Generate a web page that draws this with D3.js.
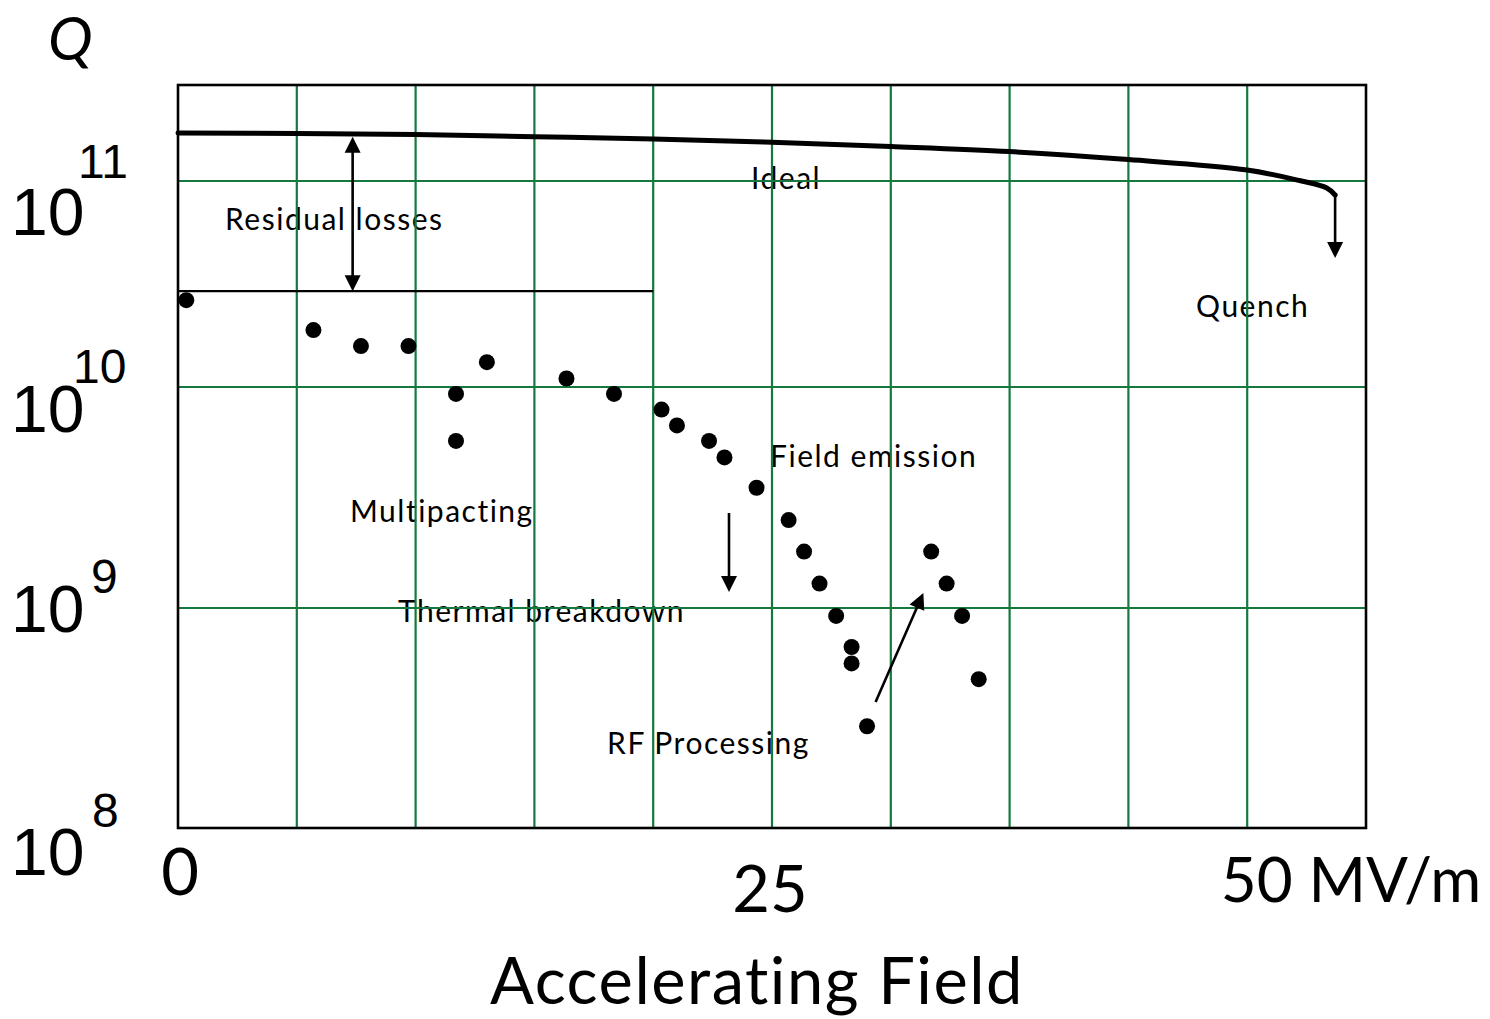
<!DOCTYPE html>
<html>
<head>
<meta charset="utf-8">
<script src="https://cdn.jsdelivr.net/npm/d3@7"></script>
<style>
  html, body { margin: 0; padding: 0; background: #ffffff; }
  svg { display: block; }
</style>
</head>
<body>
<svg id="chart" width="1490" height="1019"></svg>
<script>
// Accelerating field (MV/m) and quality factor Q of the ideal cavity curve
const idealField = [0, 5, 10, 15, 20, 25, 30, 35, 40, 45, 47.2, 48.35, 48.7];
const idealQ = [1.71e11, 1.70e11, 1.68e11, 1.64e11, 1.60e11, 1.54e11, 1.47e11, 1.39e11, 1.27e11, 1.13e11, 1.005e11, 9.25e10, 8.55e10];

// Measured Q(E) points of a real cavity
const dotField = [0.35, 5.7, 7.7, 9.7, 11.7, 11.7, 13.0, 16.35, 18.35, 20.35, 21.0, 22.35, 23.0, 24.35, 25.7, 26.35, 27.0, 27.7, 28.35, 28.35, 29.0, 31.7, 32.35, 33.0, 33.7];
const dotQ = [2.64e10, 1.89e10, 1.58e10, 1.58e10, 9.3e9, 5.7e9, 1.32e10, 1.10e10, 9.3e9, 7.9e9, 6.7e9, 5.7e9, 4.8e9, 3.5e9, 2.5e9, 1.8e9, 1.29e9, 9.2e8, 6.65e8, 5.6e8, 2.9e8, 1.8e9, 1.29e9, 9.2e8, 4.75e8];

// Residual-loss level (drawn from 0 to 20 MV/m)
const residualQ = 2.92e10;
const residualEnd = 20;

// Axis ticks
const fieldGrid = [5, 10, 15, 20, 25, 30, 35, 40, 45];
const fieldTicks = [0, 25, 50];
const fieldTickLabels = ["0", "25", "50 MV/m"];
const qTicks = [1e8, 1e9, 1e10, 1e11];
const qTickExp = ["8", "9", "10", "11"];
const qGrid = [1e9, 1e10, 1e11];

// Annotations: text, field, Q at text baseline
const noteText = ["Residual losses", "Ideal", "Quench", "Field emission", "Multipacting", "Thermal breakdown", "RF Processing"];
const noteField = [1.98, 24.12, 42.85, 24.92, 7.24, 9.26, 18.06];
const noteQ = [5.78e10, 9.14e10, 2.19e10, 4.35e9, 2.45e9, 8.63e8, 2.17e8];

// Arrows: [field0, Q0] -> [field1, Q1]
const arrowFrom = [[48.7, 8.55e10], [23.19, 2.69e9], [29.36, 3.74e8]];
const arrowTo = [[48.7, 4.23e10], [23.19, 1.18e9], [31.37, 1.17e9]];
// Double-headed arrow spanning the residual losses
const residualArrowField = 7.35;
const residualArrowQ = [1.64e11, 2.92e10];

// ---- layout ----
const plotTop = 85;
const gridColor = "#14783f";
const sans = "Lato, 'Open Sans', sans-serif";

const svg = d3.select("#chart");

const x = d3.scaleLinear().domain([0, 50]).range([178, 1366]);
// piecewise log axis (decades are not evenly spaced on the sheet)
const y = d3.scaleLog().domain([1e8, 1e9, 1e10, 1e11]).range([828, 608, 387, 181]);

const plotBottom = y(1e8);

// annotation labels (drawn below the grid)
svg.append("g")
  .selectAll("text")
  .data(noteText)
  .join("text")
  .attr("x", (d, i) => x(noteField[i]))
  .attr("y", (d, i) => y(noteQ[i]))
  .attr("font-family", sans)
  .attr("font-size", 30)
  .attr("letter-spacing", 1.5)
  .attr("fill", "#000")
  .text(d => d);

// grid
const grid = svg.append("g").attr("stroke", gridColor).attr("stroke-width", 2.2);
grid.selectAll("line.v")
  .data(fieldGrid)
  .join("line")
  .attr("class", "v")
  .attr("x1", d => x(d)).attr("x2", d => x(d))
  .attr("y1", plotTop).attr("y2", plotBottom);
grid.selectAll("line.h")
  .data(qGrid)
  .join("line")
  .attr("class", "h")
  .attr("x1", x(0)).attr("x2", x(50))
  .attr("y1", d => y(d)).attr("y2", d => y(d));

// residual level
svg.append("line")
  .attr("x1", x(0)).attr("x2", x(residualEnd))
  .attr("y1", y(residualQ)).attr("y2", y(residualQ))
  .attr("stroke", "#000").attr("stroke-width", 2.2);

// ideal curve
const idealLine = d3.line()
  .x(d => x(d[0]))
  .y(d => y(d[1]))
  .curve(d3.curveCatmullRom.alpha(0.5));
svg.append("path")
  .datum(d3.zip(idealField, idealQ))
  .attr("d", idealLine)
  .attr("fill", "none")
  .attr("stroke", "#000")
  .attr("stroke-width", 5)
  .attr("stroke-linecap", "round");

// measured points
svg.append("g")
  .selectAll("circle")
  .data(d3.zip(dotField, dotQ))
  .join("circle")
  .attr("cx", d => x(d[0]))
  .attr("cy", d => y(d[1]))
  .attr("r", 8)
  .attr("fill", "#000");

// arrowheads
function arrowHead(g, x0, y0, x1, y1) {
  const len = 16, half = 8;
  const dx = x1 - x0, dy = y1 - y0, l = Math.hypot(dx, dy);
  const ux = dx / l, uy = dy / l;
  const bx = x1 - ux * len, by = y1 - uy * len;
  g.append("path")
    .attr("d", `M${x1},${y1}L${bx - uy * half},${by + ux * half}L${bx + uy * half},${by - ux * half}Z`)
    .attr("fill", "#000");
  return [bx + ux * 2, by + uy * 2];
}

const arrows = svg.append("g");
arrowFrom.forEach((f, i) => {
  const t = arrowTo[i];
  const x0 = x(f[0]), y0 = y(f[1]), x1 = x(t[0]), y1 = y(t[1]);
  const end = arrowHead(arrows, x0, y0, x1, y1);
  arrows.append("line")
    .attr("x1", x0).attr("y1", y0).attr("x2", end[0]).attr("y2", end[1])
    .attr("stroke", "#000").attr("stroke-width", 2.6);
});
{
  const ax = x(residualArrowField);
  const yTop = y(residualArrowQ[0]), yBot = y(residualArrowQ[1]);
  const e1 = arrowHead(arrows, ax, yBot, ax, yTop);
  const e2 = arrowHead(arrows, ax, yTop, ax, yBot);
  arrows.append("line")
    .attr("x1", ax).attr("y1", e1[1]).attr("x2", ax).attr("y2", e2[1])
    .attr("stroke", "#000").attr("stroke-width", 2.6);
}

// frame
svg.append("rect")
  .attr("x", x(0)).attr("y", plotTop)
  .attr("width", x(50) - x(0)).attr("height", plotBottom - plotTop)
  .attr("fill", "none").attr("stroke", "#000").attr("stroke-width", 2.6);

// y axis labels: 10 with a raised exponent
const qLabelDy = [47, 24, 45, 54];
const qExpX = [92, 91, 73, 78];
const qExpDy = [-48, -39, -49, -57];
const yl = svg.append("g").attr("font-family", "'Liberation Sans', Arial, sans-serif").attr("fill", "#000");
yl.selectAll("text.base")
  .data(qTicks)
  .join("text")
  .attr("class", "base")
  .attr("x", 11)
  .attr("y", (d, i) => y(d) + qLabelDy[i])
  .attr("font-size", 66)
  .text("10");
yl.selectAll("text.exp")
  .data(qTicks)
  .join("text")
  .attr("class", "exp")
  .attr("x", (d, i) => qExpX[i])
  .attr("y", (d, i) => y(d) + qLabelDy[i] + qExpDy[i])
  .attr("font-size", 48)
  .text((d, i) => qTickExp[i]);

// x axis labels
const xTickDx = [2, -2, -15];
const xTickDy = [67, 84, 74];
const xTickSize = [65, 65, 62];
svg.append("g")
  .selectAll("text")
  .data(fieldTicks)
  .join("text")
  .attr("x", (d, i) => x(d) + xTickDx[i])
  .attr("y", (d, i) => plotBottom + xTickDy[i])
  .attr("text-anchor", "middle")
  .attr("font-family", sans)
  .attr("font-size", (d, i) => xTickSize[i])
  .attr("fill", "#000")
  .text((d, i) => fieldTickLabels[i]);

// axis titles
svg.append("text")
  .attr("x", x(25) - 15)
  .attr("y", plotBottom + 176)
  .attr("text-anchor", "middle")
  .attr("font-family", sans)
  .attr("font-size", 65)
  .attr("letter-spacing", 1.5)
  .attr("fill", "#000")
  .text("Accelerating Field");

svg.append("text")
  .attr("x", 48)
  .attr("y", 60)
  .attr("font-family", sans)
  .attr("font-style", "italic")
  .attr("font-size", 60)
  .attr("fill", "#000")
  .text("Q");
</script>
</body>
</html>
